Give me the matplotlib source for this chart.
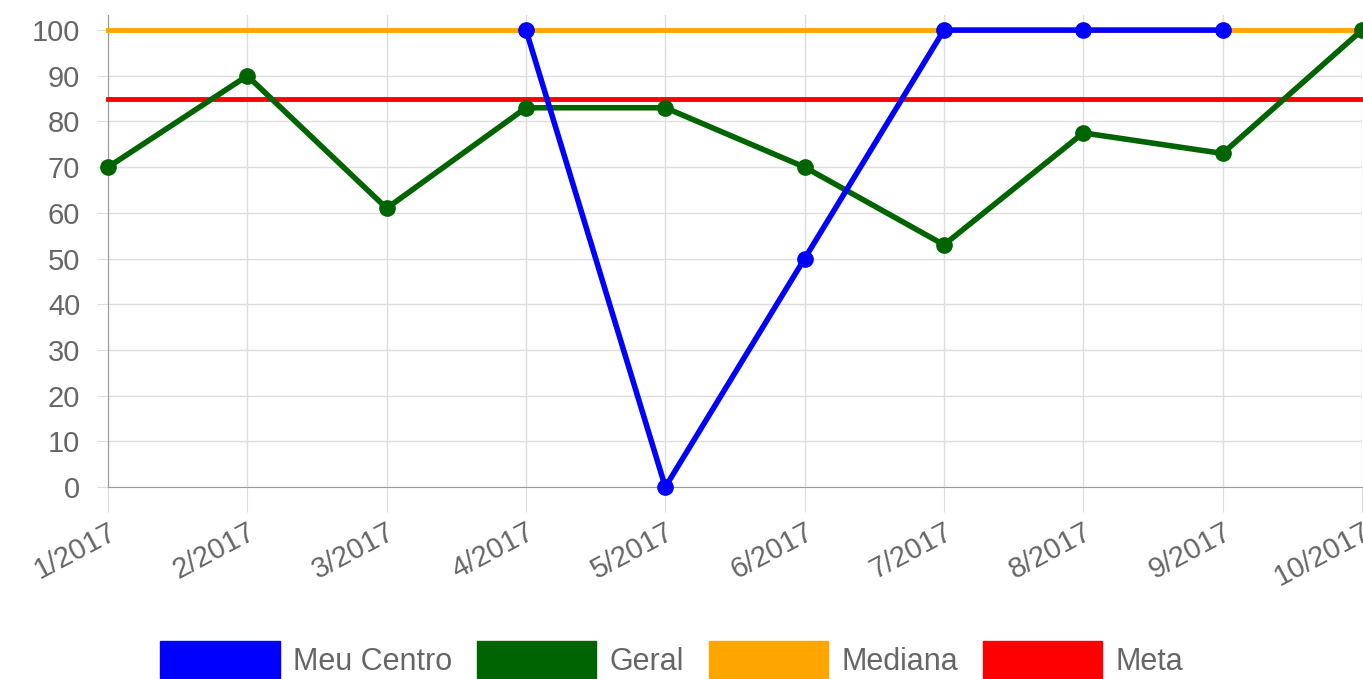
import numpy as np
import matplotlib
matplotlib.use("Agg")
import matplotlib.pyplot as plt
from matplotlib.patches import Patch

plt.rcParams['font.family'] = ['Liberation Sans', 'DejaVu Sans']

meses = ['1/2017', '2/2017', '3/2017', '4/2017', '5/2017',
         '6/2017', '7/2017', '8/2017', '9/2017', '10/2017']
meu_centro = [None, None, None, 100, 0, 50, 100, 100, 100, None]
geral = [70, 90, 61, 83, 83, 70, 53, 77.5, 73, 100]
mediana = [100] * 10
meta = [85] * 10

cores = {'Meu Centro': '#0000ff', 'Geral': '#006400', 'Mediana': '#ffa500', 'Meta': '#ff0000'}
cinza = '#666666'

fig = plt.figure(figsize=(13.63, 6.79), dpi=100)
ax = fig.add_axes([108 / 1363, 1 - 487 / 679, 1254 / 1363, 472 / 679])

x = np.arange(len(meses))
mc = np.array([np.nan if v is None else v for v in meu_centro], dtype=float)

ax.plot(x, mediana, color=cores['Mediana'], lw=3.5, zorder=3, clip_on=False)
ax.plot(x, meta, color=cores['Meta'], lw=3.5, zorder=3, clip_on=False)
ax.plot(x, geral, color=cores['Geral'], lw=4, marker='o', ms=11, zorder=4, clip_on=False)
ax.plot(x, mc, color=cores['Meu Centro'], lw=4, marker='o', ms=11, zorder=5, clip_on=False)

ax.set_xlim(0, len(meses) - 1)
ax.set_ylim(0, 103.3)
ax.set_yticks(range(0, 101, 10))
ax.set_xticks(x)
ax.set_xticklabels(meses, rotation=28, ha='right', va='top', rotation_mode='anchor')

ax.grid(True, color='#dddddd', lw=1)
ax.set_axisbelow(True)
for s in ['top', 'right']:
    ax.spines[s].set_visible(False)
ax.spines['left'].set_color('#999999')
ax.spines['bottom'].set_color('#999999')
ax.tick_params(axis='y', length=8, color='#dddddd', labelsize=21, labelcolor=cinza, pad=12)
ax.tick_params(axis='x', length=18, color='#dddddd', labelsize=21, labelcolor=cinza, pad=4)

handles = [Patch(facecolor=c, edgecolor=c, label=k) for k, c in cores.items()]
fig.legend(handles=handles, loc='upper center', bbox_to_anchor=(0.493, 1 - 641 / 679),
           ncol=4, frameon=False, fontsize=22, labelcolor=cinza, borderpad=0, borderaxespad=0,
           handlelength=3.9, handleheight=1.5, handletextpad=0.45, columnspacing=0.8)

fig.savefig('out.png', dpi=100)
